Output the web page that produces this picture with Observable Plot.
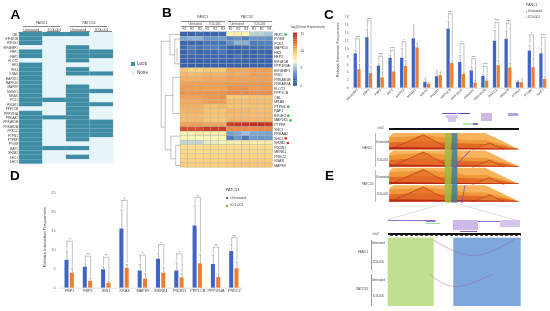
<!DOCTYPE html>
<html><head><meta charset="utf-8">
<script src="https://cdn.jsdelivr.net/npm/d3@7"></script>
<script src="https://cdn.jsdelivr.net/npm/@observablehq/plot@0.6"></script>
<style>
html,body{margin:0;padding:0;background:#fff}
#page{position:relative;width:550px;height:311px;overflow:hidden;font-family:"Liberation Sans",Arial,sans-serif;filter:blur(.3px)}
#page svg{position:absolute;left:0;top:0;background:transparent;overflow:visible}
.t{position:absolute;white-space:nowrap;color:#444;line-height:1}
.sq{position:absolute}
</style></head><body><div id="page"></div>
<script>
// ---------- Panel A ----------
const loopGenes = ["CBL","EIF4E1B","EIF4G1","EIF4EBP1","FBP1","FBP2","FLOT2","HK3","IRS1","KRAS","MAP2K1","MAPK10","MAPK9","MKNK1","MRAS","PCK1","PIK3R1","PPP1CB","PPP1R3A","PRKAA2","PRKAR1B","PRKAR2A","PRKCZ","PTPN1","PTPRF","PYGM","RAF1","SH2B2","SHC1","SHC2"];
const loopColumns = ["Untreated","ICG-001","Untreated","ICG-001"];
const loopMatrix = ["1110","1000","1000","0010","1011","1011","0010","1000","1010","1011","1000","1000","1010","1011","1010","1110","1011","0010","1010","1110","1011","1011","1011","1011","1010","1000","1110","1000","1010","1000"];
// ---------- Panel B ----------
const exprGenes = ["FBP1","PYGM","PCK1","MAPK10","HK3","FBP2","EIF4E1B","PPP1R3A","EIF4EBP1","IRS1","PRKAR1B","PRKAR2A","FLOT2","PPP1CB","CBL","MRAS","PTPN1","RAF1","EIF4E2","MAP2K1","PTPRF","SHC1","PRKAA2","SHC2","SH2B2","PIK3R1","MKNK1","PRKCZ","KRAS","MAPK9"];
const exprValues = [
[1,1,1.5,1,1,1.5,7.2,7.6,7.2,5.6,5.6,5.2],
[4.2,4.6,4.6,3.7,3.7,3.9,3.2,3.5,3,3.6,3.6,3.6],
[1.3,1.3,1.3,2.3,2.3,2.2,3.5,4.6,4.5,2.8,3,3],
[1.5,3,2,2.8,3,2.2,1,1,1.5,1.8,2,2.5],
[1,2.2,1.2,1.5,1.5,2.2,.8,1,1,1,1.2,1],
[1,1.2,1,1.2,1.2,1.2,1,1.8,1,1,1.5,1],
[.8,.8,.8,1,1,1,1,1,1,1,1,1],
[.8,.8,.8,.8,.8,.8,.9,.9,.9,.9,.9,.9],
[9.4,9,9,9.4,9.4,9.4,10.5,10.5,10.5,10.8,10.8,10.8],
[10,9.8,9.8,10,10,10,10.5,10.3,10.5,11,10.8,10.8],
[10.3,10.3,10.3,10.5,10.5,10.5,10.8,10.8,10.8,10.8,10.8,10.8],
[10.8,10.8,10.8,10.8,10.8,10.8,11,11,11,11,11,11],
[11,11,11,10.8,10.8,10.8,11.3,11.3,11.3,11,11,11],
[11.2,11.2,11.2,11.2,11.2,11.2,11.5,11.5,11.5,11.4,11.4,11.4],
[10.8,10.8,10.8,11.1,11.1,11.3,9.3,9.3,9.3,9.6,9.6,9.6],
[10.5,10.5,10.5,10.8,10.8,10.8,9.8,9.8,9.8,9.8,9.8,9.8],
[10.3,10.3,10.3,9.7,9.7,9.9,9.5,9.5,9.5,9.6,9.6,9.6],
[10,10,10,9.5,9.5,9.5,10,10,10,9.7,9.7,9.7],
[9.8,9.8,9.8,9.5,9.5,9.5,9.8,9.8,9.8,9.8,9.8,9.8],
[9.9,9.9,9.9,9.4,9.4,9.4,10,10,10,9.9,9.9,9.9],
[10.8,10.8,10.8,10.5,10.5,10.5,14,14.2,14.2,14.5,14.5,14.2],
[13.5,13.5,13.5,14,14,14,11.5,11.5,11.5,11.5,11.5,11.5],
[7.5,7.5,7.8,7.5,7.5,7.5,4,4.2,5,4.2,4.2,4],
[7.2,7.2,7,7.2,7.2,7.2,2.8,3.8,2.8,3.8,3.8,3.8],
[5.8,5.8,5.8,6.5,6.5,6.8,7.5,7.5,7.8,7.6,7.6,7.6],
[8.5,8.5,8.5,8.6,8.6,8.6,8.5,8.5,8.5,8.5,8.5,8.5],
[8.6,8.6,8.6,8.6,8.6,8.6,8.7,8.7,8.7,8.7,8.7,8.7],
[8.8,8.8,8.8,8.8,8.8,8.8,8.9,8.9,8.9,8.9,8.9,8.9],
[9,9,9,9,9,9,9.1,9.1,9.1,9.1,9.1,9.1],
[9.2,9.2,9.2,9.2,9.2,9.2,9.4,9.4,9.4,9.4,9.4,9.4]];
const exprSamples = ["R1","R2","R3","R1","R2","R3","R1","R2","R3","R1","R2","R3"];
const exprLegendTicks = [0,5,10,15];
const greenDots = ["FBP1","PTPN1","EIF4E2","MAP2K1"];
const greenDotGap = [1.6,1.95,1.95,2.25];
const redDots = ["SHC2","SH2B2"];
const redDotGap = [1.63,1.9];
const dendroLinks = [
[1,2,1,21],[1,2,.55,2],[.55,.5,.55,5],[.55,.5,0,.5],[.55,5,.3,5],[.3,1.5,.3,7],[.3,1.5,0,1.5],[.3,7,0,7],[.18,3.5,.18,6.5],
[1,21,.8,21],[.8,14,.8,26],[.8,14,.4,14],[.4,10,.4,18],[.4,10,0,10],[.4,18,0,18],
[.8,26,.5,26],[.5,23,.5,28],[.5,23,0,23],[.5,28,.25,28],[.25,25,.25,29.5],[.25,25,0,25],[.25,29.5,0,29.5]];
// ---------- Panel C ----------
const cGenes = ["EIF4EBP1","FBP1","FBP2","IRS1","MAPK9","MKNK1","MRAS","PIK3R1","PPP1CB","PPP1R3A","PRKAA2","PRKAR2B","PRKCZ","PRKCB","PTPN1","PYGM","RAF1"];
const cUntreated = [8.7,12.8,5.6,7.6,7.6,12.5,1.5,2.9,15,6.5,4.4,3,11.9,12.4,1.5,9.4,8.7];
const cUntreatedTop = [9.6,15,6.2,8.3,10,16,2.4,4.4,17,8.3,5.5,3.5,14.6,14.5,2,10.8,10];
const cIcg = [4.7,3.7,2.6,4.1,5.5,10.2,1,3.2,6.3,3.5,1.3,1.8,5.7,5.1,1.4,5.2,2.2];
const cIcgTop = [6,5.5,4.1,5.5,7,11.4,1.3,4.1,7,4.1,2,2.4,7,6.4,2.4,7.7,2.9];
const cBracket = [12.5,17.1,8.1,9.6,11.8,null,null,null,18.8,11.3,7.5,5.5,16.7,16.5,null,13.5,12.9];
const cStars = ["***","***","***","***","*","","","","***","*","***","***","***","***","","*","***"];
const cTicks = [0,2,4,6,8,10,12,14,16,18];
// ---------- Panel D ----------
const dGenes = ["FBP1","FBP2","IRS1","KRAS","MAPK9","MKNK1","PIK3R1","PPP1CB","PPP1R3A","PRKCZ"];
const dUntreated = [7.3,5.5,4.8,15.5,4.5,7.6,4.5,16.3,6.2,9.6];
const dUntreatedTop = [9.7,6.4,5.6,20.5,6.2,9.2,6.7,21.6,8.6,11.5];
const dIcg = [3.9,1.8,1.3,5.2,2.4,3.9,2.7,6.4,2.8,5.1];
const dIcgTop = [5.1,2.6,1.8,6.2,3.8,5.4,3.8,8.8,3.8,6.9];
const dBracket = [12.3,8.4,8.1,23,8.7,11.4,9,23.8,10.8,13.2];
const dStars = ["*","**","**","*","*","*","*","*","**","**"];
const dTicks = [0,5,10,15,20,25];
// ---------- Panel E, Hi-C tracks ----------
const hicTracks = [0,1,2,3];
const hicOuterPos = [0,3,74,100];
const hicOuterH = [.8,1,1,0];
const hicUpperPos = [0,30,45,60,74,87,100];
const hicUpperH = [.72,.85,.72,.55,.55,.3,0];
const hicMidPos = [0,26,50,74,87,100];
const hicMidH = [.42,.5,.38,.32,.2,0];
const hicTadAPos = [0,26,47];
const hicTadAH = [0,.92,0];
const hicTadBPos = [64,77,88];
const hicTadBH = [0,.42,0];
const hicBasePos = [0,100];
const hicBaseH = [.13,.03];
const hicStripes = [[42.8,47.7,"#9dbb3f"],[48,52.5,"#3f7f95"]];
const hicArrows = [[61.7,1.0,49.7,1.95],[57.9,3.0,55.6,3.97]];
// ---------- Panel E, loop view ----------
const loopRegions = [[0,46,"#c0e08f"],[65.6,133,"#7ca8dc"]];
const loopArcs = [[[45.6,2],[85.6,17.3],[127.3,.7]],[[41.3,35.7],[67.3,48.3],[104,36.3]]];
const loopTickPos = d3.range(0,133,5);
const zoomLines = [[[443,203],[436.7,205],[386.7,219.3]],[[458,203],[463,205],[516.7,220]]];
// ---------- Colours ----------
const teal = "#3f8ca5", pale = "#e6f5f8", blue = "#3f65c4", orange = "#ed7d31";

const page = document.getElementById("page");
const F = "Liberation Sans, Arial, sans-serif";
function add(o){ page.append(Plot.plot({width:550,height:311,margin:0,style:{background:"transparent",fontFamily:F,overflow:"visible"},...o,x:{axis:null,...o.x},y:{axis:null,...o.y}})); }
function t(x,y,s,size=3.6,anchor="start",extra={}){
  const d=document.createElement("div"); d.className="t"; d.textContent=s;
  d.style.left=x+"px"; d.style.top=(y-size/2)+"px"; d.style.fontSize=size+"px";
  if(anchor==="middle") d.style.transform="translateX(-50%)";
  if(anchor==="end") d.style.transform="translateX(-100%)";
  Object.assign(d.style,extra); page.append(d);
}
function sq(x,y,w,h,c){ const d=document.createElement("div"); d.className="sq"; Object.assign(d.style,{left:x+"px",top:y+"px",width:w+"px",height:h+"px",background:c}); page.append(d); }
function line(x1,y1,x2,y2,c="#888"){ const horiz=y1===y2; sq(x1,y1,horiz?x2-x1:.6,horiz?.6:y2-y1,c); }

// A
const aCells = loopMatrix.flatMap((row,i)=>[...row].map((v,j)=>({i,j,v:+v})));
add({x:{domain:[0,4],range:[19,113]},y:{domain:[0,30],range:[32,163.6]},marks:[
  Plot.rect(aCells,{x1:"j",x2:d=>d.j+1,y1:"i",y2:d=>d.i+1,fill:d=>d.v?teal:pale,stroke:d=>d.v?"#6fa9bc":pale,strokeWidth:.3}),
  Plot.text(loopGenes,{x:()=>0,y:(d,i)=>i+.5,text:d=>d,textAnchor:"end",dx:-1.5,fontSize:3.1,fill:"#444"}),
  Plot.text(loopColumns,{x:(d,i)=>i+.5,y:()=>-.6,text:d=>d,fontSize:3.6,fill:"#444"})
]});
t(41.5,23.5,"PANC1",3.6,"middle"); t(89,23.5,"PATC53",3.6,"middle");
line(23,26,60,26); line(70,26,107,26); line(23,31,42,31); line(47,31,60,31); line(70,31,90,31); line(94,31,112,31);
sq(131,62,4,4,teal); t(137,64,"Loop",4.6); sq(131,71,4,4,pale); t(137,73,"None",4.6);

// B
const colorOpts = {type:"linear",domain:[0,3,5,7,9,11,13,15],range:["#2f56a6","#4f7fbf","#9cc1e0","#fbf8bb","#fcd27e","#f29a50","#dd5a30","#b5201f"]};
const bCells = exprValues.flatMap((r,i)=>r.map((v,j)=>({i,j,v})));
const bar = d3.range(0,15.01,.5);
add({x:{domain:[0,12],range:[180,272.7]},y:{domain:[0,30],range:[31.7,167.3]},color:colorOpts,marks:[
  Plot.rect(bCells,{x1:"j",x2:d=>d.j+1,y1:"i",y2:d=>d.i+1,fill:"v",stroke:"#a9a9a0",strokeWidth:.3}),
  Plot.text(exprGenes,{x:()=>12,y:(d,i)=>i+.5,text:d=>d,textAnchor:"start",dx:1,fontSize:3.5,fill:"#333"}),
  Plot.text(exprSamples,{x:(d,i)=>i+.5,y:()=>-.6,text:d=>d,fontSize:3,fill:"#444"}),
  Plot.dot(greenDots,{x:(d,i)=>12+greenDotGap[i],y:d=>exprGenes.indexOf(d)+.5,r:1.3,fill:"#3ab54a"}),
  Plot.dot(redDots,{x:(d,i)=>12+redDotGap[i],y:d=>exprGenes.indexOf(d)+.5,r:1.3,fill:"#e0302a"})
]});
add({x:{domain:[1,0],range:[160.7,180]},y:{domain:[0,30],range:[31.7,167.3]},marks:[
  Plot.link(dendroLinks,{x1:d=>d[0],y1:d=>d[1],x2:d=>d[2],y2:d=>d[3],stroke:"#888",strokeWidth:.5})
]});
add({x:{domain:[0,1],range:[293,297]},y:{domain:[0,15],range:[85,33.5]},color:colorOpts,marks:[
  Plot.rect(bar,{x1:()=>0,x2:()=>1,y1:d=>d-.25,y2:d=>d+.25,fill:d=>d}),
  Plot.text(exprLegendTicks,{x:()=>1,y:d=>d,text:d=>d,dx:3,fontSize:3.2,fill:"#444",textAnchor:"start"})
]});
t(291,28,"log2(Gene Expression)",3.3);
t(202.7,18,"PANC1",3.3,"middle"); t(246.7,18,"PATC53",3.3,"middle");
line(181,20.5,225,20.5); line(228,20.5,272,20.5);
t(195,24,"Untreated",3,"middle"); t(215,24,"ICG-001",3,"middle"); t(237,24,"Untreated",3,"middle"); t(260,24,"ICG-001",3,"middle");
[[181,203],[205,225],[228,249],[251,272]].forEach(([a,b])=>line(a,26,b,26));

// C & D shared bar panel
function bars(genes,u,uTop,ic,icTop,br,stars,ticks,cfg){
  const rows = genes.map((g,i)=>({i,u:u[i],ut:uTop[i],c:ic[i],ct:icTop[i],b:br[i],s:stars[i]}));
  const withB = rows.filter(d=>d.b!=null);
  const o=cfg.off,w=cfg.w;
  add({marginLeft:cfg.ml,marginRight:cfg.mr,marginTop:cfg.mt,marginBottom:cfg.mb,
    x:{domain:cfg.xd,range:cfg.xr},y:{domain:cfg.yd,range:cfg.yr},marks:[
    Plot.rect(rows,{x1:d=>d.i-o-w/2,x2:d=>d.i-o+w/2,y1:()=>0,y2:"u",fill:blue}),
    Plot.rect(rows,{x1:d=>d.i+o-w/2,x2:d=>d.i+o+w/2,y1:()=>0,y2:"c",fill:orange}),
    Plot.ruleX(rows,{x:d=>d.i-o,y1:"u",y2:"ut",stroke:"#777",strokeWidth:.5}),
    Plot.ruleX(rows,{x:d=>d.i+o,y1:"c",y2:"ct",stroke:"#777",strokeWidth:.5}),
    Plot.ruleY(rows,{y:"ut",x1:d=>d.i-o-w/4,x2:d=>d.i-o+w/4,stroke:"#777",strokeWidth:.4}),
    Plot.ruleY(rows,{y:"ct",x1:d=>d.i+o-w/4,x2:d=>d.i+o+w/4,stroke:"#777",strokeWidth:.4}),
    Plot.ruleY(withB,{y:"b",x1:d=>d.i-o,x2:d=>d.i+o,stroke:"#888",strokeWidth:.5}),
    Plot.ruleX(withB,{x:d=>d.i-o,y1:"b",y2:d=>d.ut+cfg.gap,stroke:"#888",strokeWidth:.5}),
    Plot.ruleX(withB,{x:d=>d.i+o,y1:"b",y2:d=>d.ct+cfg.gap,stroke:"#888",strokeWidth:.5}),
    Plot.text(withB,{x:"i",y:"b",text:"s",dy:-1.2,fontSize:cfg.fs+.4,fill:"#444"}),
    Plot.ruleY([0],{x1:()=>cfg.xd[0],x2:()=>cfg.xd[1],stroke:"#bbb",strokeWidth:.5}),
    Plot.axisY({ticks,tickSize:0,tickPadding:0,fontSize:cfg.fs,color:"#666",label:null,anchor:"left",dx:cfg.ydx}),
    Plot.axisX({ticks:d3.range(genes.length),tickFormat:i=>genes[i],tickSize:0,tickPadding:1,fontSize:cfg.fs,color:"#444",label:null,tickRotate:cfg.rot,anchor:"bottom"})
  ]});
}
bars(cGenes,cUntreated,cUntreatedTop,cIcg,cIcgTop,cBracket,cStars,cTicks,{off:.16,w:.28,xd:[-.45,16.45],xr:[351.9,548],yd:[0,18],yr:[87.7,16.7],ml:349,mr:0,mt:5,mb:223.3,fs:3.3,gap:.3,rot:-45,ydx:-1});
t(339,50,"Relative Interaction Frequencies",3.8,"middle",{transform:"translate(-50%,0) rotate(-90deg)"});
t(526,6,"PANC1",3.6); sq(525.5,10.7,1.8,1.8,blue); t(528,11.7,"Untreated",3.2); sq(525.5,16.7,1.8,1.8,orange); t(528,17.7,"ICG-001",3.2);

bars(dGenes,dUntreated,dUntreatedTop,dIcg,dIcgTop,dBracket,dStars,dTicks,{off:.145,w:.22,xd:[-.5,9.5],xr:[60,243],yd:[0,25],yr:[287.7,192.3],ml:56,mr:300,mt:185,mb:23.3,fs:3.8,gap:.3,rot:0,ydx:-1});
t(45,237,"Relative Interaction Frequencies",4.2,"middle",{transform:"translate(-50%,0) rotate(-90deg)"});
t(225.7,191,"PATC53",3.8); sq(226.2,197.3,2,2,blue); t(230,198.3,"Untreated",3.6); sq(226.2,205,2,2,orange); t(230,206,"ICG-001",3.6);

// E Hi-C
const layer = (pos,h,fill)=>hicTracks.map(k=>Plot.areaY(pos.map((p,i)=>({p,h:h[i]})),{x:"p",y1:()=>k+.93,y2:d=>k+.93-d.h*.93,fill}));
const tadLine = (pos,h)=>hicTracks.map(k=>Plot.line(pos.map((p,i)=>({p,h:h[i]})),{x:"p",y:d=>k+.93-d.h*.93,stroke:"#a93a1c",strokeWidth:.6}));
add({x:{domain:[0,100],range:[389.3,519]},y:{domain:[0,4],range:[133,202.6]},marks:[
  ...layer(hicOuterPos,hicOuterH,"#f7b45c"),
  ...layer(hicUpperPos,hicUpperH,"#f09838"),
  ...layer(hicTadAPos,hicTadAH,"#e8782a"),
  ...layer(hicMidPos,hicMidH,"#e26a26"),
  ...tadLine(hicTadAPos,hicTadAH),
  ...layer(hicTadBPos,hicTadBH,"#e87a2c"),
  ...tadLine(hicTadBPos,hicTadBH),
  ...layer(hicBasePos,hicBaseH,"#b9291a"),
  Plot.rect(hicStripes,{x1:d=>d[0],x2:d=>d[1],y1:()=>0,y2:()=>4,fill:d=>d[2],fillOpacity:.85}),
  Plot.arrow(hicArrows,{x1:d=>d[0],y1:d=>d[1],x2:d=>d[2],y2:d=>d[3],stroke:"#7a55c8",strokeWidth:.9,headLength:3,bend:0})
]});
sq(389.3,128.2,129.7,1.8,"#111");
t(380.7,129,"chr2",3.2,"middle");
["Untreated","ICG-001","Untreated","ICG-001"].forEach((s,i)=>t(382.7,[142,160,177,194][i],s,3,"middle"));
t(367.7,149,"PANC1",3.2,"middle"); t(367.7,185,"PATC53",3.2,"middle");
line(375,133,375,167,"#bbb"); line(375,170,375,202,"#bbb");
// gene models
[[441.7,112.7,15,1,"#7a4fc0"],[446,114.5,12,3,"#d6c6ea"],[448,118,8,3.5,"#d6c6ea"],[458,112.8,12,1,"#6a3fb5"],[480.7,113,11,8,"#cdbbe6"],[508,113,10,3,"#b8a0de"],[463,122.7,15,2.5,"#b8e6b0"],[473,122.5,5,2,"#8f6fc8"]].forEach(d=>sq(...d));
// zoom lines
add({x:{domain:[0,550],range:[0,550]},y:{domain:[0,311],range:[0,311]},marks:
  zoomLines.map(l=>Plot.line(l,{stroke:"#bbb",strokeWidth:.5}))
});
// E loop view
add({x:{domain:[0,133],range:[387.7,520.7]},y:{domain:[0,68.3],range:[237.7,306]},marks:[
  Plot.rect(loopRegions,{x1:d=>d[0],x2:d=>d[1],y1:()=>0,y2:()=>68.3,fill:d=>d[2]}),
  ...loopArcs.map(a=>Plot.line(a,{curve:"natural",stroke:"#9a5bb8",strokeWidth:.6,strokeOpacity:.8}))
]});
sq(387.7,233,133,2,"#111"); sq(387.7,235,133,1.4,"#555");
loopTickPos.forEach(p=>sq(387.7+p,235,2.5,1.4,"#eee"));
t(375.7,234.3,"chr2",3.2,"middle");
["Untreated","ICG-001","Untreated","ICG-001"].forEach((s,i)=>t(378.3,[243.3,262.7,280.7,296.3][i],s,3,"middle"));
t(363,253,"PANC1",3.2,"middle"); t(362,289.7,"PATC53",3.2,"middle");
line(370.7,240,370.7,270,"#999"); line(370.7,274,370.7,306,"#999");
[[388.3,219.6,48,.7,"#8f6fc8"],[426,220,9,1.5,"#8f6fc8"],[425,222.5,15,1,"#a0e0a0"],[452.7,220,25.6,10,"#cdb9e8"],[478,221.2,22,1,"#9070c8"],[500,220,20,6.7,"#d4c4ec"],[460,231,17,1.2,"#8a5fc0"]].forEach(d=>sq(...d));

// Panel letters
[["A",10.5,14.5],["B",162,12.5],["C",324,15],["D",10,176],["E",325,176]].forEach(([s,x,y])=>t(x,y,s,13.5,"start",{fontWeight:"bold",color:"#000"}));
</script></body></html>
